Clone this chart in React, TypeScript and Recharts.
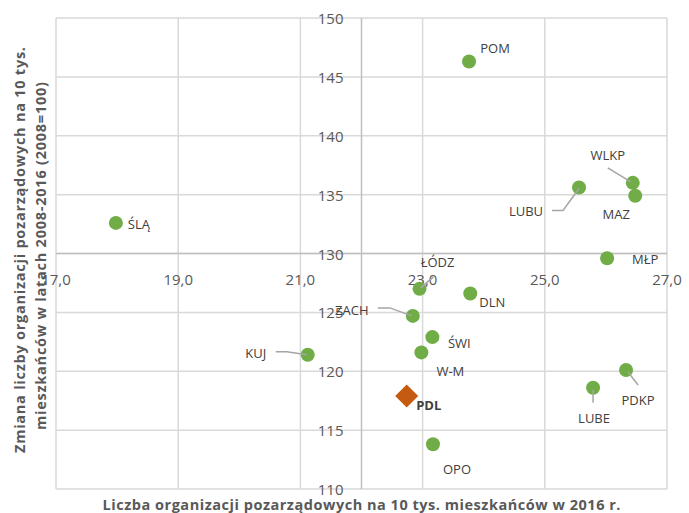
import { ScatterChart, Scatter, XAxis, YAxis, CartesianGrid, ReferenceLine, ReferenceDot } from "recharts";

// województwa: liczba NGO na 10 tys. mieszkańców (2016) vs dynamika 2008-2016
const regionNames = ["ŚLĄ", "POM", "WLKP", "LUBU", "MAZ", "MŁP", "ŁÓDZ", "DLN", "ZACH", "ŚWI", "W-M", "KUJ", "OPO", "LUBE", "PDKP"];
const orgsPer10k = [17.98, 23.76, 26.44, 25.56, 26.48, 26.02, 22.95, 23.78, 22.84, 23.16, 22.98, 21.12, 23.17, 25.79, 26.33];
const changeIndex = [132.6, 146.3, 136.0, 135.6, 134.9, 129.6, 127.0, 126.6, 124.7, 122.9, 121.6, 121.4, 113.8, 118.6, 120.1];

const highlightName = "PDL";
const highlightOrgs = 22.74;
const highlightChange = 117.9;

const xTicks = [17, 19, 21, 23, 25, 27];
const xTickLabels = ["17,0", "19,0", "21,0", "23,0", "25,0", "27,0"];
const yTicks = [110, 115, 120, 125, 130, 135, 140, 145, 150];
const axisCrossX = 22.0;
const axisCrossY = 130;

const xTitle = "Liczba organizacji pozarządowych na 10 tys. mieszkańców w 2016 r.";
const yTitleLines = [
  "Zmiana liczby organizacji pozarządowych na 10 tys.",
  "mieszkańców w latach 2008-2016 (2008=100)",
];

const W = 689;
const H = 513;
const MARGIN = { top: 18, right: 22, bottom: 24, left: 56 };

const FONT = "'Open Sans', sans-serif";
const TEXT = "#595959";
const LABEL = "#404040";
const GREEN = "#70ad47";
const ORANGE = "#c55a11";
const LEADER = "#a5a5a5";

// label offsets (px from point centre) and optional leader lines
const labelPlacement: Record<string, { dx: number; dy: number; leader?: number[][] }> = {
  "ŚLĄ": { dx: 23, dy: 1 },
  POM: { dx: 26, dy: -14 },
  WLKP: { dx: -25, dy: -28, leader: [[-25, -15], [-2, -1]] },
  LUBU: { dx: -53, dy: 23, leader: [[-27, 23], [-16, 23], [0, 1]] },
  MAZ: { dx: -19, dy: 18 },
  "MŁP": { dx: 38, dy: 1 },
  "ŁÓDZ": { dx: 18, dy: -27, leader: [[1, -1], [14, -12]] },
  DLN: { dx: 22, dy: 8 },
  ZACH: { dx: -61, dy: -6, leader: [[-35, -8], [-23, -8], [-1, 0]] },
  "ŚWI": { dx: 27, dy: 6 },
  "W-M": { dx: 29, dy: 19 },
  KUJ: { dx: -52, dy: -2, leader: [[-32, -3], [-21, -3], [-1, 0]] },
  OPO: { dx: 24, dy: 25 },
  LUBE: { dx: 1, dy: 30, leader: [[0, 2], [0, 15]] },
  PDKP: { dx: 12, dy: 30, leader: [[2, 2], [12, 15]] },
  PDL: { dx: 22, dy: 9 },
};

const regionData = regionNames.map((name, i) => ({ name, x: orgsPer10k[i], y: changeIndex[i] }));
const highlightData = [{ name: highlightName, x: highlightOrgs, y: highlightChange }];

function PointLabel({ cx, cy, name, bold }: { cx: number; cy: number; name: string; bold?: boolean }) {
  const p = labelPlacement[name];
  return (
    <g>
      {p.leader && (
        <polyline
          points={p.leader.map(([dx, dy]) => `${cx + dx},${cy + dy}`).join(" ")}
          fill="none"
          stroke={LEADER}
          strokeWidth={1.5}
        />
      )}
      <text
        x={cx + p.dx}
        y={cy + p.dy}
        textAnchor="middle"
        dominantBaseline="central"
        fontFamily={FONT}
        fontSize={13}
        fontWeight={bold ? 700 : 400}
        fill={LABEL}
      >
        {name}
      </text>
    </g>
  );
}

function RegionDot(props: any) {
  const { cx, cy, payload } = props;
  return (
    <g>
      <circle cx={cx} cy={cy} r={7} fill={GREEN} />
      <PointLabel cx={cx} cy={cy} name={payload.name} />
    </g>
  );
}

function HighlightDot(props: any) {
  const { cx, cy, payload } = props;
  const h = 11.5;
  return (
    <g>
      <polygon points={`${cx},${cy - h} ${cx + h},${cy} ${cx},${cy + h} ${cx - h},${cy}`} fill={ORANGE} />
      <PointLabel cx={cx} cy={cy} name={payload.name} bold />
    </g>
  );
}

// axis titles drawn on top of the chart, aligned with the plot area
function AxisTitles() {
  const plotW = W - MARGIN.left - MARGIN.right;
  const midX = MARGIN.left + plotW / 2;
  const yTitles = [
    { x: 19, y: 250, len: 406 },
    { x: 40, y: 256, len: 348 },
  ];
  return (
    <svg width={W} height={H} style={{ position: "absolute", left: 0, top: 0, pointerEvents: "none" }}>
      <text
        x={midX}
        y={504}
        textAnchor="middle"
        dominantBaseline="central"
        fontFamily={FONT}
        fontSize={14.5}
        fontWeight={700}
        fill={TEXT}
        textLength={518}
        lengthAdjust="spacing"
      >
        {xTitle}
      </text>
      {yTitleLines.map((line, i) => {
        const t = yTitles[i];
        return (
          <text
            key={i}
            x={t.x}
            y={t.y}
            transform={`rotate(-90 ${t.x} ${t.y})`}
            textAnchor="middle"
            dominantBaseline="central"
            fontFamily={FONT}
            fontSize={14.5}
            fontWeight={700}
            fill={TEXT}
            textLength={t.len}
            lengthAdjust="spacing"
          >
            {line}
          </text>
        );
      })}
    </svg>
  );
}

export default function App() {
  return (
    <div style={{ position: "absolute", left: 0, top: 0, width: W, height: H, background: "#fff" }}>
      <ScatterChart width={W} height={H} margin={MARGIN}>
        <CartesianGrid stroke="#d9d9d9" strokeWidth={1.5} />
        <XAxis
          type="number"
          dataKey="x"
          domain={[17, 27]}
          ticks={xTicks}
          height={0}
          tick={() => <g />}
          axisLine={false}
          tickLine={false}
        />
        <YAxis
          type="number"
          dataKey="y"
          domain={[110, 150]}
          ticks={yTicks}
          width={0}
          tick={() => <g />}
          axisLine={false}
          tickLine={false}
        />
        <ReferenceLine x={axisCrossX} stroke="#bfbfbf" strokeWidth={1.5} />
        <ReferenceLine y={axisCrossY} stroke="#bfbfbf" strokeWidth={1.5} />
        {xTicks.map((v, i) => (
          <ReferenceDot
            key={`xt${v}`}
            x={v}
            y={axisCrossY}
            r={0}
            shape={(p: any) => (
              <text
                x={p.cx}
                y={p.cy + 25}
                textAnchor="middle"
                dominantBaseline="central"
                fontFamily={FONT}
                fontSize={15}
                fill={TEXT}
              >
                {xTickLabels[i]}
              </text>
            )}
          />
        ))}
        {yTicks.map((v) => (
          <ReferenceDot
            key={`yt${v}`}
            x={axisCrossX}
            y={v}
            r={0}
            shape={(p: any) => (
              <text
                x={p.cx - 18}
                y={p.cy}
                textAnchor="end"
                dominantBaseline="central"
                fontFamily={FONT}
                fontSize={15}
                fill={TEXT}
              >
                {v}
              </text>
            )}
          />
        ))}
        <Scatter data={regionData} shape={RegionDot} isAnimationActive={false} />
        <Scatter data={highlightData} shape={HighlightDot} isAnimationActive={false} />
      </ScatterChart>
      <AxisTitles />
    </div>
  );
}
